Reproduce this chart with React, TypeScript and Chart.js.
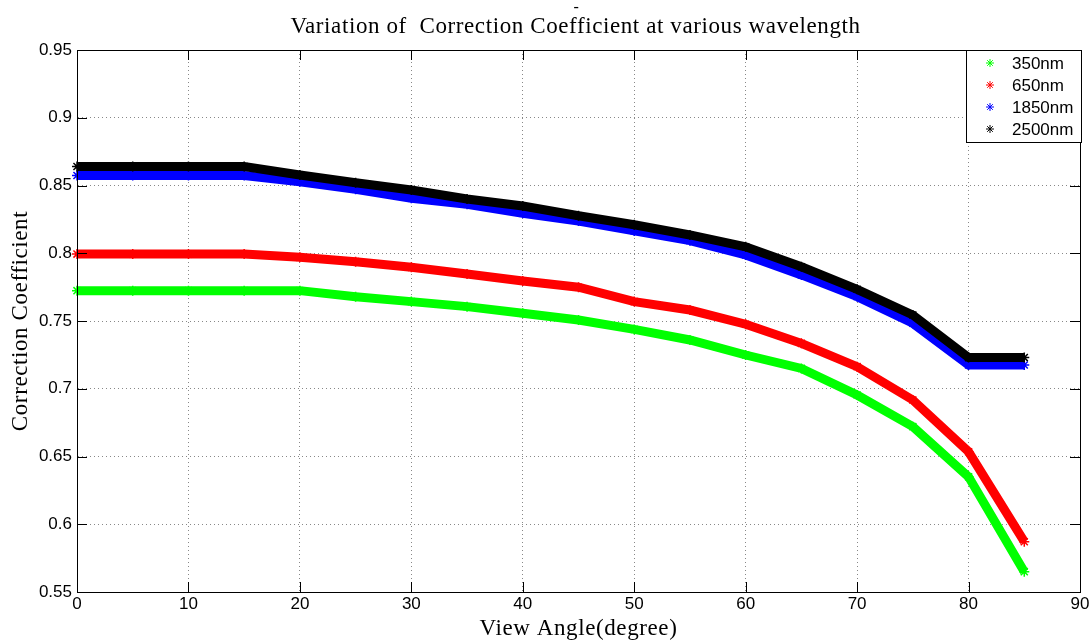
import React, { useEffect, useRef } from "react";
import { Chart, registerables } from "chart.js";

Chart.register(...registerables);

const angles = [0, 5, 10, 15, 20, 25, 30, 35, 40, 45, 50, 55, 60, 65, 70, 75, 80, 85];
const seriesNames = ["350nm", "650nm", "1850nm", "2500nm"];
const seriesColors = ["#00ff00", "#ff0000", "#0000ff", "#000000"];
const v350 = [0.7724, 0.7724, 0.7724, 0.7724, 0.7724, 0.7679, 0.7643, 0.7606, 0.7557, 0.7507, 0.7438, 0.736, 0.7249, 0.715, 0.6954, 0.672, 0.635, 0.565];
const v650 = [0.7994, 0.7994, 0.7994, 0.7994, 0.797, 0.7938, 0.7896, 0.7847, 0.7795, 0.7749, 0.7643, 0.7581, 0.7476, 0.7335, 0.7163, 0.6917, 0.6535, 0.5871];
const v1850 = [0.8574, 0.8574, 0.8574, 0.8574, 0.8528, 0.8472, 0.8406, 0.8361, 0.8295, 0.8238, 0.8165, 0.8093, 0.7987, 0.784, 0.768, 0.7483, 0.7175, 0.7175];
const v2500 = [0.8640, 0.8640, 0.8640, 0.8640, 0.8578, 0.852, 0.8467, 0.840, 0.8349, 0.8277, 0.821, 0.8135, 0.8048, 0.790, 0.7734, 0.7544, 0.7230, 0.7230];
const seriesValues = [v350, v650, v1850, v2500];
const xTicks = { min: 0, max: 90, step: 10 };
const yTicks = { min: 0.55, max: 0.95, step: 0.05 };
const titleText = "Variation of  Correction Coefficient at various wavelength";
const xLabel = "View Angle(degree)";
const yLabel = "Correction Coefficient";

function drawStar(ctx: CanvasRenderingContext2D, x: number, y: number, r: number, color: string) {
  ctx.save();
  ctx.strokeStyle = color;
  ctx.lineWidth = 1;
  ctx.beginPath();
  ctx.moveTo(x - r, y);
  ctx.lineTo(x + r, y);
  ctx.moveTo(x, y - r);
  ctx.lineTo(x, y + r);
  const d = r * 0.7;
  ctx.moveTo(x - d, y - d);
  ctx.lineTo(x + d, y + d);
  ctx.moveTo(x - d, y + d);
  ctx.lineTo(x + d, y - d);
  ctx.stroke();
  ctx.restore();
}

const decorPlugin = {
  id: "decor",
  afterDraw(chart: any) {
    const ctx: any = chart.ctx;
    const { left, right, top, bottom } = chart.chartArea;
    const xs = chart.scales.x;
    const ys = chart.scales.y;
    ctx.save();
    // box
    ctx.strokeStyle = "#000";
    ctx.lineWidth = 1;
    ctx.strokeRect(Math.round(left) + 0.5, Math.round(top) + 0.5, Math.round(right - left), Math.round(bottom - top));
    // inward ticks
    const tl = 10;
    ctx.beginPath();
    xs.ticks.forEach((t: any) => {
      const px = Math.round(xs.getPixelForValue(t.value)) + 0.5;
      ctx.moveTo(px, bottom);
      ctx.lineTo(px, bottom - tl);
      ctx.moveTo(px, top);
      ctx.lineTo(px, top + tl);
    });
    ys.ticks.forEach((t: any) => {
      const py = Math.round(ys.getPixelForValue(t.value)) + 0.5;
      ctx.moveTo(left, py);
      ctx.lineTo(left + tl, py);
      ctx.moveTo(right, py);
      ctx.lineTo(right - tl, py);
    });
    ctx.stroke();

    // title
    ctx.fillStyle = "#000";
    ctx.textAlign = "center";
    ctx.textBaseline = "alphabetic";
    ctx.letterSpacing = "0.6px";
    ctx.font = '23px "Liberation Serif"';
    ctx.fillText(titleText, (left + right) / 2 - 3, 33);
    ctx.font = '16px "Liberation Serif"';
    ctx.fillText("-", (left + right) / 2 - 2, 12);
    // x label
    ctx.font = '23px "Liberation Serif"';
    ctx.fillText(xLabel, (left + right) / 2, 635);
    // y label
    ctx.save();
    ctx.translate(27, (top + bottom) / 2);
    ctx.rotate(-Math.PI / 2);
    ctx.fillText(yLabel, 0, 0);
    ctx.restore();
    ctx.letterSpacing = "0px";

    // legend
    const lx = 966, ly = 50, lw = 115, lh = 92;
    ctx.fillStyle = "#fff";
    ctx.fillRect(lx, ly, lw, lh);
    ctx.strokeStyle = "#000";
    ctx.strokeRect(lx + 0.5, ly + 0.5, lw, lh);
    ctx.font = '17px "Liberation Sans"';
    ctx.textAlign = "left";
    ctx.textBaseline = "middle";
    seriesNames.forEach((n, i) => {
      const yy = 63 + i * 22;
      drawStar(ctx, 990, yy, 4, seriesColors[i]);
      ctx.fillStyle = "#000";
      ctx.fillText(n, 1012, yy + 1);
    });
    ctx.restore();
  },
};

export default function App() {
  const ref = useRef<HTMLCanvasElement>(null);
  useEffect(() => {
    if (!ref.current) return;
    const datasets = seriesNames.map((name, i) => ({
      label: name,
      data: angles.map((a, j) => ({ x: a, y: seriesValues[i][j] })),
      borderColor: seriesColors[i],
      backgroundColor: seriesColors[i],
      borderWidth: 9,
      pointStyle: "star" as const,
      pointRadius: 5,
      pointBorderWidth: 1.5,
      pointBorderColor: seriesColors[i],
      tension: 0,
      order: 3 - i,
      clip: 8,
    }));
    const chart = new Chart(ref.current, {
      type: "line",
      data: { datasets },
      options: {
        animation: false,
        responsive: false,
        devicePixelRatio: 1,
        layout: { padding: { left: 0, top: 50, right: 12, bottom: 0 } },
        plugins: { legend: { display: false }, title: { display: false }, tooltip: { enabled: false } },
        scales: {
          x: {
            type: "linear",
            min: xTicks.min,
            max: xTicks.max,
            ticks: { stepSize: xTicks.step, color: "#000", font: { family: "Liberation Sans", size: 17 }, padding: 2, maxRotation: 0 },
            grid: { color: "#888", lineWidth: 1, drawTicks: false },
            border: { display: true, color: "#000", dash: [1, 3] },
            afterFit: (s: any) => { s.height = 49; },
          },
          y: {
            type: "linear",
            min: yTicks.min,
            max: yTicks.max,
            ticks: {
              stepSize: yTicks.step,
              color: "#000",
              font: { family: "Liberation Sans", size: 17 },
              padding: 5,
              callback: (v: any) => parseFloat(Number(v).toFixed(2)).toString(),
            },
            grid: { color: "#888", lineWidth: 1, drawTicks: false },
            border: { display: true, color: "#000", dash: [1, 3] },
            afterFit: (s: any) => { s.width = 77; },
          },
        },
      },
      plugins: [decorPlugin],
    });
    return () => chart.destroy();
  }, []);
  return (
    <div style={{ position: "absolute", left: 0, top: 0, width: 1092, height: 641, background: "#fff" }}>
      <canvas ref={ref} width={1092} height={641} style={{ width: 1092, height: 641, display: "block" }} />
    </div>
  );
}
